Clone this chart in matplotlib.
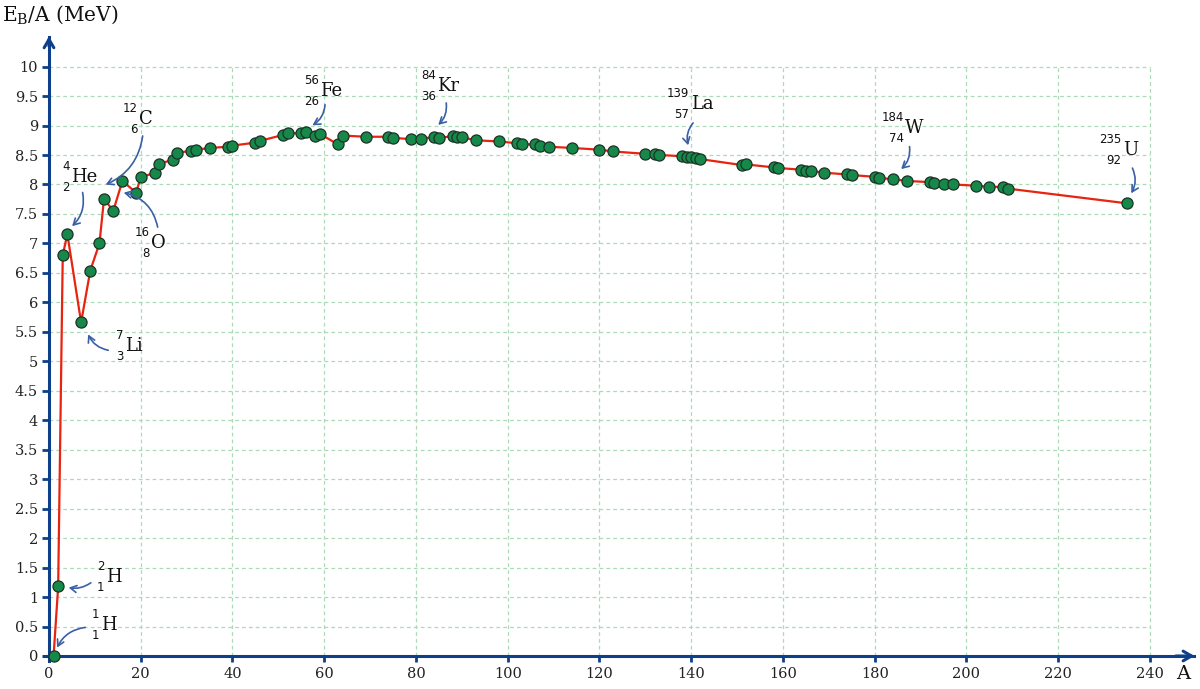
import numpy as np
import matplotlib.pyplot as plt

# binding energy per nucleon
mass_num = [1, 2, 3, 4, 7, 9, 11, 12, 14, 16, 19, 20, 23, 24, 27, 28, 31, 32, 35, 39,
            40, 45, 46, 51, 52, 55, 56, 58, 59, 63, 64, 69, 74, 75, 79, 81, 84, 85, 88, 89,
            90, 93, 98, 102, 103, 106, 107, 109, 114, 120, 123, 130, 132, 133, 138, 139, 140, 141, 142, 151,
            152, 158, 159, 164, 165, 166, 169, 174, 175, 180, 181, 184, 187, 192, 193, 195, 197, 202, 205, 208,
            209, 235]
eb_per_a = [0.0, 1.18, 6.80, 7.16, 5.66, 6.54, 7.00, 7.76, 7.55, 8.06, 7.86, 8.13, 8.19, 8.35, 8.42, 8.54, 8.57, 8.59, 8.62, 8.64,
            8.66, 8.71, 8.74, 8.84, 8.87, 8.87, 8.89, 8.82, 8.86, 8.68, 8.83, 8.81, 8.81, 8.79, 8.77, 8.78, 8.80, 8.79, 8.82, 8.81,
            8.80, 8.75, 8.73, 8.70, 8.68, 8.68, 8.65, 8.64, 8.62, 8.59, 8.56, 8.52, 8.52, 8.50, 8.48, 8.47, 8.46, 8.45, 8.43, 8.33,
            8.34, 8.29, 8.28, 8.25, 8.23, 8.23, 8.20, 8.17, 8.16, 8.13, 8.11, 8.09, 8.06, 8.04, 8.03, 8.01, 8.00, 7.98, 7.96, 7.96,
            7.93, 7.68]

x_ticks = list(range(0, 241, 20))
y_ticks = list(np.arange(0, 10.01, 0.5))

# labelled nuclides
nuc_sym = ['H', 'H', 'He', 'Li', 'C', 'O', 'Fe', 'Kr', 'La', 'W', 'U']
nuc_mass = ['1', '2', '4', '7', '12', '16', '56', '84', '139', '184', '235']
nuc_z = ['1', '1', '2', '3', '6', '8', '26', '36', '57', '74', '92']
lab_x = [11.3, 12.4, 4.8, 16.6, 19.6, 22.2, 59.1, 84.6, 139.9, 186.6, 234.1]
lab_y = [0.53, 1.34, 8.13, 5.26, 9.11, 7.01, 9.59, 9.67, 9.37, 8.96, 8.59]
arr_x0 = [8.5, 9.6, 7.2, 13.5, 20.5, 23.8, 60.2, 86.5, 140.8, 187.5, 235.9]
arr_y0 = [0.49, 1.27, 7.91, 5.18, 8.87, 7.23, 9.40, 9.43, 9.08, 8.69, 8.32]
arr_x1 = [1.5, 3.7, 4.6, 8.3, 11.8, 15.7, 56.9, 84.4, 139.5, 185.3, 235.6]
arr_y1 = [0.10, 1.17, 7.26, 5.50, 7.98, 7.87, 8.98, 8.98, 8.62, 8.23, 7.81]
arr_rad = [0.3, -0.25, -0.3, -0.3, -0.3, 0.35, -0.3, -0.3, 0.3, -0.3, -0.3]

axis_col = '#0d3f8a'
grid_col = '#acdab8'
ann_col = '#3a5fa6'

fig = plt.figure(figsize=(12, 6.89), dpi=100)
ax = fig.add_axes([0, 0, 1, 1])
ax.set_xlim(-10.68, 250.9)
ax.set_ylim(-0.56, 11.13)

# grid only inside the 0..240 / 0..10 box
for xv in x_ticks[1:]:
    ax.plot([xv, xv], [0, 10], color=grid_col, lw=0.9, ls=(0, (3, 2.5)), zorder=1)
for yv in y_ticks[1:]:
    ax.plot([0, 240], [yv, yv], color=grid_col, lw=0.9, ls=(0, (3, 2.5)), zorder=1)

# axes through the origin
for s in ['top', 'right']:
    ax.spines[s].set_visible(False)
ax.spines['left'].set_position(('data', 0))
ax.spines['bottom'].set_position(('data', 0))
ax.spines['left'].set_bounds(-0.09, 10.5)
ax.spines['bottom'].set_bounds(-1.1, 249.5)
for s in ['left', 'bottom']:
    ax.spines[s].set_color(axis_col)
    ax.spines[s].set_linewidth(2.2)
    ax.spines[s].set_zorder(3)
ax.annotate('', xy=(0, 10.56), xytext=(0, 10.3),
            arrowprops=dict(arrowstyle='->,head_length=0.6,head_width=0.35', color=axis_col, lw=2.2))
ax.annotate('', xy=(250.3, 0), xytext=(245, 0),
            arrowprops=dict(arrowstyle='->,head_length=0.6,head_width=0.35', color=axis_col, lw=2.2))

ax.set_xticks(x_ticks)
ax.set_yticks(y_ticks)
ax.set_xticklabels([str(v) for v in x_ticks])
ax.set_yticklabels(['%g' % v for v in y_ticks])
ax.tick_params(axis='both', colors=axis_col, width=2, labelcolor='#222222',
               labelsize=10.5)
ax.tick_params(axis='y', length=5, pad=3)
ax.tick_params(axis='x', length=4, pad=4)
for lab in ax.get_xticklabels() + ax.get_yticklabels():
    lab.set_family('DejaVu Serif')

# the curve
ax.plot(mass_num, eb_per_a, color='#e8230f', lw=1.6, zorder=4)
ax.plot(mass_num, eb_per_a, ls='none', marker='o', ms=8, mfc='#15884a',
        mec='#1d3326', mew=0.9, zorder=5)

# nuclide labels with curved arrows
for i in range(len(nuc_sym)):
    ax.text(lab_x[i], lab_y[i], nuc_sym[i], family='DejaVu Serif', fontsize=13,
            ha='left', va='center', color='#111111')
    ax.annotate(nuc_mass[i], xy=(lab_x[i], lab_y[i]), xytext=(-1, 7.5),
                textcoords='offset points', ha='right', va='center',
                fontsize=8.5, family='DejaVu Sans', color='#111111')
    ax.annotate(nuc_z[i], xy=(lab_x[i], lab_y[i]), xytext=(-1, -7.5),
                textcoords='offset points', ha='right', va='center',
                fontsize=8.5, family='DejaVu Sans', color='#111111')
    ax.annotate('', xy=(arr_x1[i], arr_y1[i]), xytext=(arr_x0[i], arr_y0[i]),
                arrowprops=dict(arrowstyle='->,head_length=0.45,head_width=0.25',
                                color=ann_col, lw=1.2,
                                connectionstyle='arc3,rad=%g' % arr_rad[i]),
                zorder=6)

fig.text(0.002, 1 - 15 / 689, r'E$_\mathregular{B}$/A (MeV)', family='DejaVu Serif',
         fontsize=14.5, ha='left', va='center', color='#111111')
fig.text(1183 / 1200, 1 - 674 / 689, 'A', family='DejaVu Serif', fontsize=14,
         ha='center', va='center', color='#111111')

fig.savefig('out.png', dpi=100)
